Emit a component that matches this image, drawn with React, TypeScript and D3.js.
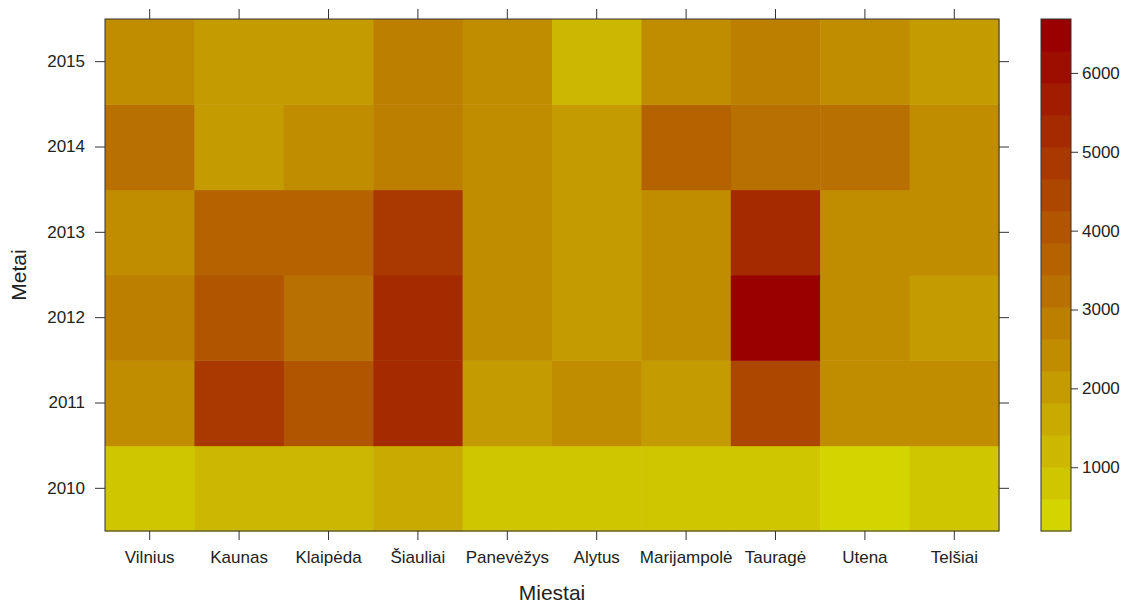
import { useEffect, useRef } from "react";
import * as d3 from "d3";

const W = 1125, H = 604;
const PANEL = { left: 105, top: 19, right: 999, bottom: 531 };
const KEY = { left: 1041, right: 1071 };
const FONT = "'Liberation Sans', Arial, sans-serif";
const INK = "#222";

const CITIES = ["Vilnius", "Kaunas", "Klaipėda", "Šiauliai", "Panevėžys", "Alytus", "Marijampolė", "Tauragė", "Utena", "Telšiai"];
const YEARS = [2010, 2011, 2012, 2013, 2014, 2015];

// values per year, same order as CITIES
const Y2010 = [800, 1150, 1050, 1600, 800, 800, 900, 900, 590, 650];
const Y2011 = [2450, 5000, 3900, 5350, 2000, 2300, 1950, 4650, 2250, 2300];
const Y2012 = [2800, 4200, 3200, 5300, 2500, 2100, 2450, 6285, 2600, 2150];
const Y2013 = [2500, 3550, 3500, 4700, 2450, 2100, 2350, 5100, 2400, 2400];
const Y2014 = [3050, 1950, 2450, 2800, 2500, 2100, 3700, 3050, 3100, 2550];
const Y2015 = [2400, 2000, 2000, 3000, 2400, 1250, 2300, 2900, 2450, 2050];
const ROWS = [Y2010, Y2011, Y2012, Y2013, Y2014, Y2015];

const KEY_TICKS = [1000, 2000, 3000, 4000, 5000, 6000];
const CUTS = 16;

export default function App() {
  const svgRef = useRef(null);

  useEffect(() => {
    const svg = d3.select(svgRef.current);
    svg.selectAll("*").remove();

    const cells = YEARS.flatMap((yr, i) => CITIES.map((c, j) => ({ city: c, year: yr, value: ROWS[i][j] })));

    // lattice-style padded z range, split into equal intervals
    const [zmin, zmax] = d3.extent(cells, d => d.value);
    const pad = (zmax - zmin) * 0.07;
    const zlim = [zmin - pad, zmax + pad];
    const at = d3.range(CUTS + 1).map(i => zlim[0] + (zlim[1] - zlim[0]) * i / CUTS);
    const ramp = d3.interpolateRgb("#d4d400", "#990000");
    const bandCols = d3.range(CUTS).map(i => ramp(i / (CUTS - 1)));
    const color = d3.scaleThreshold().domain(at.slice(1, -1)).range(bandCols);

    const x = d3.scaleBand().domain(CITIES).range([PANEL.left, PANEL.right]);
    const y = d3.scaleBand().domain(YEARS.map(String).reverse()).range([PANEL.top, PANEL.bottom]);

    svg.append("rect").attr("width", W).attr("height", H).attr("fill", "#fff");

    // cells
    svg.append("g").selectAll("rect").data(cells).join("rect")
      .attr("x", d => x(d.city))
      .attr("y", d => y(String(d.year)))
      .attr("width", x.bandwidth() + 0.5)
      .attr("height", y.bandwidth() + 0.5)
      .attr("fill", d => color(d.value));

    svg.append("rect")
      .attr("x", PANEL.left).attr("y", PANEL.top)
      .attr("width", PANEL.right - PANEL.left).attr("height", PANEL.bottom - PANEL.top)
      .attr("fill", "none").attr("stroke", "#333").attr("stroke-width", 1);

    const tickStyle = g => g
      .call(a => a.select(".domain").remove())
      .call(a => a.selectAll(".tick line").attr("stroke", "#333"))
      .call(a => a.selectAll("text").attr("fill", INK).attr("font-size", 17).attr("font-family", FONT));

    svg.append("g").attr("transform", `translate(0,${PANEL.bottom})`)
      .call(d3.axisBottom(x).tickSize(9).tickPadding(11)).call(tickStyle);
    svg.append("g").attr("transform", `translate(0,${PANEL.top})`)
      .call(d3.axisTop(x).tickSize(10).tickFormat(() => "")).call(tickStyle);
    svg.append("g").attr("transform", `translate(${PANEL.left},0)`)
      .call(d3.axisLeft(y).tickSize(10).tickPadding(10)).call(tickStyle);
    svg.append("g").attr("transform", `translate(${PANEL.right},0)`)
      .call(d3.axisRight(y).tickSize(10).tickFormat(() => "")).call(tickStyle);

    // axis titles
    svg.append("text").attr("x", (PANEL.left + PANEL.right) / 2).attr("y", 600)
      .attr("text-anchor", "middle").attr("fill", INK).attr("font-size", 21)
      .attr("font-family", FONT).text("Miestai");
    svg.append("text").attr("transform", `translate(26,${(PANEL.top + PANEL.bottom) / 2}) rotate(-90)`)
      .attr("text-anchor", "middle").attr("fill", INK).attr("font-size", 21)
      .attr("font-family", FONT).text("Metai");

    // colour key
    const k = d3.scaleLinear().domain(zlim).range([PANEL.bottom, PANEL.top]);
    svg.append("g").selectAll("rect").data(d3.range(CUTS)).join("rect")
      .attr("x", KEY.left).attr("width", KEY.right - KEY.left)
      .attr("y", i => k(at[i + 1]))
      .attr("height", i => k(at[i]) - k(at[i + 1]) + 0.5)
      .attr("fill", i => bandCols[i]);
    svg.append("rect")
      .attr("x", KEY.left).attr("y", PANEL.top)
      .attr("width", KEY.right - KEY.left).attr("height", PANEL.bottom - PANEL.top)
      .attr("fill", "none").attr("stroke", "#333");
    svg.append("g").attr("transform", `translate(${KEY.right},0)`)
      .call(d3.axisRight(k).tickValues(KEY_TICKS).tickFormat(d3.format("d")).tickSize(7).tickPadding(4))
      .call(tickStyle);
  }, []);

  return (
    <div style={{ position: "absolute", left: 0, top: 0, width: W, height: H, background: "#fff" }}>
      <svg ref={svgRef} width={W} height={H} style={{ display: "block" }} />
    </div>
  );
}
